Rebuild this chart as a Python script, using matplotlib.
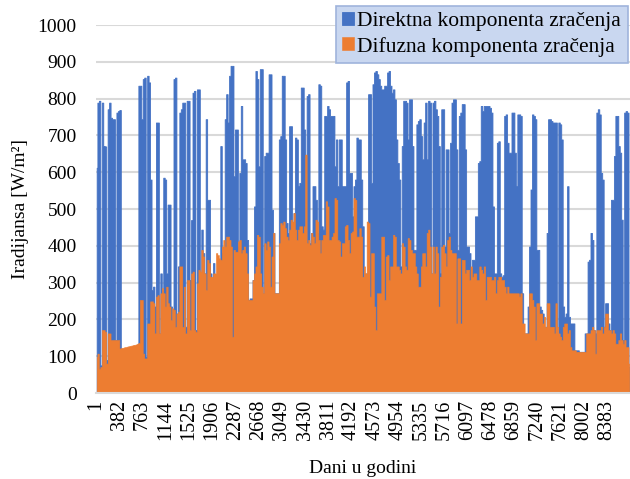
import matplotlib
matplotlib.use('Agg')
import matplotlib.pyplot as plt
import numpy as np

# Dnevni vrhovi ozračenja [W/m2], dan 1..365 (očitano sa slike)
direct = [
    612, 789, 794, 75, 789, 671, 670, 90, 771, 789,
    748, 744, 744, 144, 762, 766, 769, 110, 112, 115,
    118, 120, 118, 116, 120, 122, 125, 124, 128, 835,
    835, 744, 853, 857, 98, 862, 844, 580, 280, 289,
    235, 735, 735, 162, 325, 280, 585, 580, 325, 512,
    512, 235, 198, 853, 857, 216, 344, 762, 771, 789,
    789, 180, 794, 794, 307, 470, 816, 821, 171, 825,
    825, 307, 444, 380, 325, 744, 525, 525, 325, 289,
    353, 316, 316, 325, 325, 671, 380, 371, 744, 812,
    735, 862, 889, 889, 589, 716, 716, 398, 598, 780,
    635, 635, 625, 416, 253, 257, 257, 307, 507, 875,
    853, 616, 880, 880, 271, 644, 653, 653, 866, 866,
    498, 435, 271, 271, 271, 689, 698, 862, 862, 689,
    462, 435, 725, 725, 462, 489, 694, 689, 562, 571,
    830, 830, 716, 398, 807, 812, 407, 435, 562, 562,
    525, 435, 839, 835, 453, 444, 753, 753, 780, 771,
    753, 753, 753, 616, 689, 562, 689, 689, 562, 562,
    562, 844, 848, 598, 598, 480, 562, 580, 694, 689,
    689, 580, 453, 300, 325, 307, 812, 812, 571, 839,
    871, 875, 866, 853, 835, 825, 825, 835, 835, 871,
    875, 835, 816, 825, 798, 689, 625, 580, 344, 671,
    794, 794, 789, 689, 798, 798, 671, 389, 389, 730,
    739, 744, 698, 635, 735, 789, 635, 794, 789, 325,
    789, 794, 771, 753, 671, 325, 771, 771, 398, 662,
    662, 435, 680, 789, 798, 798, 662, 389, 753, 762,
    785, 785, 662, 398, 398, 380, 335, 362, 362, 480,
    480, 625, 630, 780, 766, 780, 780, 780, 780, 775,
    762, 507, 325, 325, 680, 684, 325, 316, 320, 753,
    757, 680, 653, 653, 762, 762, 653, 562, 757, 757,
    753, 271, 162, 162, 162, 235, 398, 553, 757, 753,
    744, 389, 389, 235, 226, 216, 180, 180, 435, 744,
    744, 739, 735, 735, 735, 107, 735, 730, 689, 235,
    207, 216, 562, 207, 189, 189, 189, 116, 116, 116,
    112, 112, 112, 112, 162, 162, 357, 362, 435, 416,
    171, 162, 762, 771, 757, 598, 580, 180, 244, 244,
    189, 171, 525, 525, 644, 753, 753, 671, 653, 471,
    144, 762, 766, 762, 71,
]

diffuse = [
    98, 107, 66, 71, 171, 171, 166, 80, 162, 162,
    144, 144, 144, 144, 144, 144, 121, 122, 123, 124,
    125, 126, 127, 128, 129, 130, 131, 132, 134, 136,
    253, 253, 107, 94, 94, 189, 189, 249, 249, 244,
    162, 262, 266, 162, 271, 285, 271, 235, 289, 244,
    235, 198, 230, 226, 180, 216, 221, 344, 344, 180,
    289, 162, 307, 307, 171, 325, 330, 171, 166, 298,
    335, 330, 389, 371, 325, 280, 362, 353, 316, 316,
    325, 325, 380, 375, 366, 362, 398, 416, 398, 425,
    425, 416, 398, 153, 389, 384, 384, 412, 416, 380,
    389, 398, 380, 325, 253, 253, 253, 307, 325, 344,
    430, 425, 325, 289, 271, 407, 389, 412, 398, 289,
    371, 435, 271, 271, 271, 407, 462, 457, 466, 448,
    425, 416, 444, 471, 466, 489, 444, 416, 444, 453,
    453, 435, 453, 648, 407, 416, 403, 435, 425, 407,
    471, 466, 416, 380, 416, 430, 430, 521, 507, 416,
    416, 425, 435, 530, 525, 416, 412, 371, 407, 407,
    453, 457, 416, 380, 435, 439, 530, 525, 425, 425,
    448, 425, 316, 344, 325, 466, 462, 262, 380, 380,
    235, 171, 271, 271, 271, 425, 425, 253, 371, 375,
    307, 344, 344, 430, 425, 344, 344, 335, 325, 407,
    398, 344, 335, 421, 416, 389, 380, 380, 344, 325,
    289, 289, 344, 380, 380, 344, 435, 444, 398, 325,
    398, 325, 398, 380, 235, 316, 398, 403, 380, 344,
    416, 425, 389, 380, 380, 380, 189, 366, 366, 189,
    362, 362, 325, 335, 335, 307, 344, 316, 325, 325,
    307, 307, 344, 335, 325, 344, 253, 316, 316, 316,
    307, 307, 316, 271, 307, 316, 316, 307, 307, 289,
    271, 289, 271, 271, 271, 271, 271, 271, 271, 262,
    271, 189, 189, 162, 162, 162, 271, 271, 253, 235,
    144, 244, 244, 216, 216, 189, 207, 180, 244, 244,
    180, 180, 180, 162, 244, 180, 162, 153, 144, 180,
    189, 189, 162, 171, 125, 116, 116, 116, 112, 112,
    112, 112, 112, 112, 112, 162, 162, 162, 171, 180,
    171, 107, 171, 171, 171, 180, 162, 180, 216, 216,
    171, 171, 162, 171, 162, 134, 134, 144, 162, 144,
    134, 144, 125, 125, 80,
]

x_ticks = [1, 382, 763, 1144, 1525, 1906, 2287, 2668, 3049, 3430, 3811, 4192,
           4573, 4954, 5335, 5716, 6097, 6478, 6859, 7240, 7621, 8002, 8383]
y_ticks = [0, 100, 200, 300, 400, 500, 600, 700, 800, 900, 1000]

labels = ['Direktna komponenta zračenja', 'Difuzna komponenta zračenja']

plt.rcParams['font.family'] = ['Liberation Serif', 'DejaVu Serif']

# sat u godini za sredinu svakog dana
hours = np.arange(len(direct)) * 24 + 12

fig = plt.figure(figsize=(6.30, 4.79), dpi=100)
ax = fig.add_axes([96 / 630, 1 - 393 / 479, 1 - 96 / 630, (393 - 25) / 479])

ax.fill_between(hours, direct, step='mid', color='#4472c4', lw=0.6, edgecolor='#4472c4',
                label=labels[0], zorder=2)
ax.fill_between(hours, diffuse, step='mid', color='#ed7d31', lw=0.4, edgecolor='#ed7d31',
                label=labels[1], zorder=3)

ax.set_xlim(1, 8760)
ax.set_ylim(0, 1000)
ax.set_yticks(y_ticks)
ax.set_xticks(x_ticks)
ax.set_xticklabels([str(t) for t in x_ticks], rotation=90)
ax.tick_params(axis='y', length=0, pad=14, labelsize=14)
ax.tick_params(axis='x', length=0, pad=5, labelsize=14.5)

ax.grid(axis='y', color='#d9d9d9', lw=1.5)
ax.set_axisbelow(True)
for s in ['top', 'right', 'left']:
    ax.spines[s].set_visible(False)
ax.spines['bottom'].set_color('#d9d9d9')
ax.spines['bottom'].set_linewidth(1.5)
ax.spines['bottom'].set_zorder(4)

ax.set_ylabel('Iradijansa [W/m²]', fontsize=14, labelpad=6)
ax.set_xlabel('Dani u godini', fontsize=14, labelpad=14)

leg = fig.legend(loc='upper right', bbox_to_anchor=(1.003, 0.997), fontsize=15.5,
                 handlelength=0.55, handleheight=0.55, handletextpad=0.15,
                 borderpad=0.3, labelspacing=0.25, borderaxespad=0.2,
                 fancybox=False, framealpha=1)
leg.get_frame().set_facecolor('#c9d7f0')
leg.get_frame().set_edgecolor('#9fb4dc')
leg.get_frame().set_linewidth(1.2)

plt.savefig('out.png', dpi=100)
plt.close()
